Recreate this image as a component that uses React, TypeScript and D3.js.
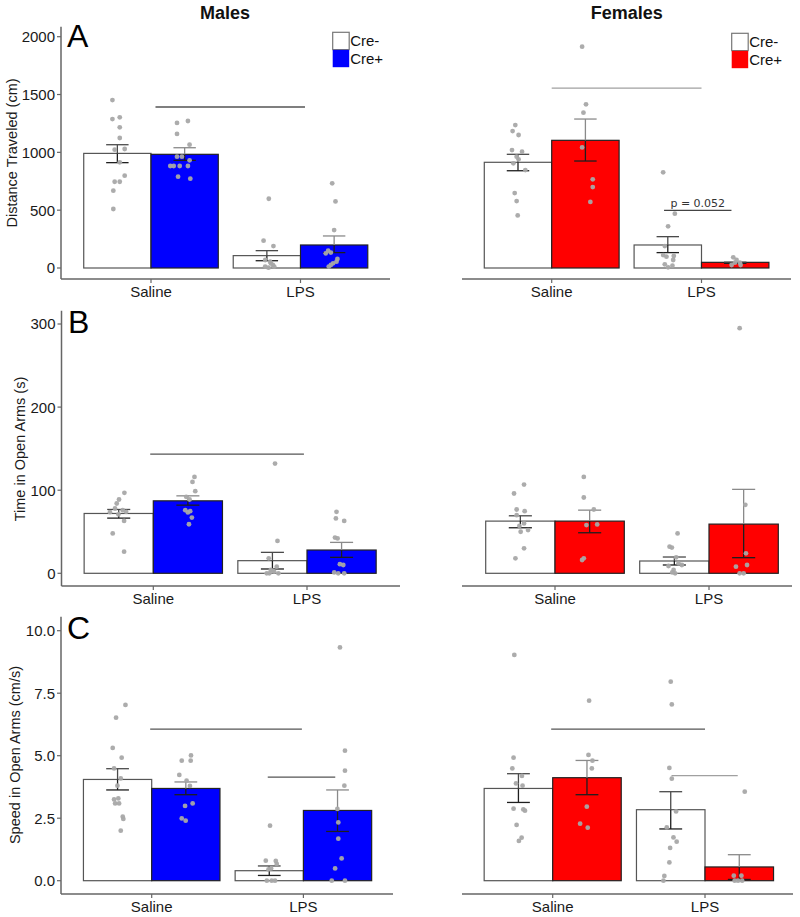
import React from "react";
import * as d3 from "d3";

// ---------- DATA ----------
const categories = ["Saline", "LPS"];
const genotypes = ["Cre-", "Cre+"];
// group order: Saline Cre-, Saline Cre+, LPS Cre-, LPS Cre+

// Distance traveled (cm)
const distMaleMean = [991, 983, 107, 199];
const distMaleErr = [[911, 1066], [931, 1040], [63, 150], [133, 277]];
const distMalePts = [
  [1452, 1288, 1303, 1216, 1124, 1029, 1023, 914, 798, 746, 746, 669, 510],
  [1254, 1271, 1159, 1066, 963, 963, 882, 882, 882, 882, 931, 790, 772],
  [599, 236, 190, 69, 55, 26, 12, 3, 12, 40],
  [732, 576, 328, 150, 133, 127, 78, 55, 26, 12, 40],
];
const distMaleJit = [
  [-0.033, -0.033, 0.016, 0.016, 0.016, 0.049, -0.018, 0.016, 0.049, -0.018, 0.016, -0.027, -0.027],
  [-0.051, 0.022, -0.051, 0.033, -0.051, -0.018, -0.096, -0.073, -0.033, 0.022, 0.033, -0.044, 0.038],
  [0.013, -0.022, 0.044, -0.011, 0.022, 0.04, -0.011, 0.011, 0.049, 0.027],
  [-0.013, 0.009, 0, -0.04, -0.022, -0.056, 0.022, 0.016, -0.022, -0.036, -0.007],
];
const distFemaleMean = [914, 1104, 199, 49];
const distFemaleErr = [[841, 983], [925, 1288], [133, 271], [40, 55]];
const distFemalePts = [
  [1236, 1184, 1150, 1020, 1006, 963, 905, 940, 847, 648, 579, 455],
  [1914, 1415, 1343, 1043, 767, 700, 571],
  [827, 470, 360, 190, 112, 104, 98, 69, 32, 20, 6],
  [92, 69, 46, 26, 26, 46],
];
const distFemaleJit = [
  [-0.018, -0.036, 0.004, -0.04, 0.027, -0.009, -0.031, 0.004, 0.049, -0.022, -0.009, -0.002],
  [-0.022, 0.004, -0.013, -0.022, 0.049, 0.049, 0.033],
  [-0.031, 0.047, 0.002, -0.02, -0.031, 0.04, -0.009, 0.036, -0.02, 0.031, 0.002],
  [-0.013, 0.009, 0.031, -0.024, 0.036, -0.002],
];

// Time in open arms (s)
const timeMaleMean = [72, 87.2, 15.2, 28];
const timeMaleErr = [[66.4, 76.8], [82, 93.2], [5.2, 25.2], [19.2, 37.2]];
const timeMalePts = [
  [96.8, 88.8, 84, 78, 76, 73.6, 74, 71, 63, 48, 26],
  [116, 110, 98.8, 92, 88.8, 76, 74.8, 73.2, 67, 59],
  [132, 39, 18, 8, 4, 2, 0, 0, 0, 3],
  [74, 66, 63, 43, 42, 11, 10, 1, 0, 0],
];
const timeMaleJit = [
  [0.037, 0.002, -0.013, -0.024, 0.026, -0.057, 0.048, -0.002, 0.035, -0.039, 0.035],
  [0.043, 0.03, 0.048, -0.011, 0.011, -0.017, 0.015, 0, 0.026, 0.007],
  [0.017, 0.033, -0.024, 0.028, -0.011, 0.011, -0.02, -0.037, 0.039, 0.002],
  [-0.033, -0.037, 0.017, -0.043, -0.026, -0.011, 0.011, -0.048, 0.017, -0.022],
];
const timeFemaleMean = [62.8, 62.8, 14.8, 59.2];
const timeFemaleErr = [[54.8, 69.2], [48.8, 76], [10, 19.6], [18.8, 101]];
const timeFemalePts = [
  [106.8, 96, 76.8, 74.8, 70, 60, 57, 52, 50, 30, 18],
  [116, 91.2, 76.8, 58, 58.8, 18, 16],
  [48, 32, 31, 19.2, 8.8, 10, 12, 4, 0, 1],
  [295, 82.4, 24, 8, 10, 0, 0],
];
const timeFemaleJit = [
  [0.024, -0.041, -0.024, 0.028, -0.024, 0.024, -0.006, 0.05, 0.002, 0.024, -0.032],
  [-0.038, -0.038, 0.027, -0.021, 0.049, -0.038, -0.049],
  [0.021, -0.031, -0.016, 0.012, -0.038, 0.049, 0.027, -0.005, 0.005, -0.014],
  [-0.026, 0.011, 0.015, -0.05, 0.022, -0.026, 0],
];

// Speed in open arms (cm/s)
const speedMaleMean = [4.05, 3.69, 0.4, 2.81];
const speedMaleErr = [[3.63, 4.48], [3.44, 3.95], [0.21, 0.59], [1.97, 3.63]];
const speedMalePts = [
  [7.03, 6.52, 5.31, 4.92, 4.49, 4.09, 3.8, 3.25, 3.29, 3.09, 3.09, 2.56, 2.47, 2.0],
  [5.01, 4.8, 4.8, 4.23, 4.0, 3.79, 3.09, 2.99, 2.49, 2.4],
  [2.2, 0.8, 0.79, 0.45, 0.49, 0.67, 0, 0, 0],
  [9.33, 5.2, 4.4, 3.8, 2.87, 2.33, 1.68, 0.89, 0.49, 0, 0],
];
const speedMaleJit = [
  [0.052, -0.01, -0.032, 0.027, -0.023, 0.021, -0.001, -0.023, 0.005, -0.016, 0.01, 0.034, 0.038, 0.021],
  [0.034, -0.027, 0.032, -0.043, 0.005, 0.027, 0.045, -0.005, -0.027, -0.001],
  [0.005, -0.023, 0.043, -0.005, 0.012, 0.049, 0.016, -0.016, 0.038],
  [0.016, 0.049, 0.049, 0.045, -0.001, 0.005, 0.005, 0.027, -0.016, -0.038, 0.049],
];
const speedFemaleMean = [3.69, 4.12, 2.84, 0.55];
const speedFemaleErr = [[3.13, 4.28], [3.44, 4.81], [2.07, 3.56], [0.05, 1.04]];
const speedFemalePts = [
  [9.03, 4.92, 4.49, 4.19, 3.89, 3.8, 2.88, 2.85, 2.8, 2.23, 1.72, 1.59],
  [7.2, 5.03, 4.8, 4.49, 2.96, 2.28, 2.12],
  [7.96, 7.05, 4.51, 4.08, 2.77, 2.13, 1.73, 1.56, 1.31, 0.73, 0.19, 0],
  [3.56, 0.2, 0.2, 0, 0, 0],
];
const speedFemaleJit = [
  [-0.027, -0.032, -0.04, 0.023, -0.016, 0.027, -0.032, 0.032, 0.043, -0.012, 0.021, 0.003],
  [0.014, 0.01, 0.036, 0.032, -0.001, -0.045, 0.005],
  [0, 0.007, -0.009, 0.007, 0.035, -0.026, 0.018, 0.039, -0.004, -0.009, -0.042, -0.048],
  [0.036, -0.036, 0.014, -0.03, 0.019, -0.008],
];

// significance bars: [x start (category units), x end, y value]
const distMaleSig = [[1.03, 2.03, 1392]];
const distFemaleSig = [[1.0, 2.0, 1556], [1.75, 2.2, 499]];
const distFemaleSigLabels = ["", "p = 0.052"];
const timeMaleSig = [[0.98, 1.98, 143.5]];
const timeFemaleSig: number[][] = [];
const speedMaleSig = [[0.99, 1.99, 6.06], [1.765, 2.21, 4.14]];
const speedFemaleSig = [[0.99, 2.0, 6.06], [1.78, 2.215, 4.2]];

const distTicks = [0, 500, 1000, 1500, 2000];
const timeTicks = [0, 100, 200, 300];
const speedTicks = [0, 2.5, 5, 7.5, 10];

const panelTitles = ["Males", "Females"];
const rowLetters = ["A", "B", "C"];
const yTitles = ["Distance Traveled (cm)", "Time in Open Arms (s)", "Speed in Open Arms (cm/s)"];

// ---------- LAYOUT ----------
const FONT = "'Liberation Sans', Arial, Helvetica, sans-serif";
const rowsLayout = [
  { domain: [0, 2000], range: [268, 36.7], axisTop: 26.7, axisY: 279, ticks: distTicks, fmt: d3.format("d"), titleX: 12, titleY: 153, letterX: 67, letterY: 47 },
  { domain: [0, 300], range: [573.3, 324], axisTop: 310.7, axisY: 586, ticks: timeTicks, fmt: d3.format("d"), titleX: 20, titleY: 449, letterX: 68, letterY: 333 },
  { domain: [0, 10], range: [880.7, 630.7], axisTop: 616.7, axisY: 894, ticks: speedTicks, fmt: d3.format(".1f"), titleX: 15, titleY: 755, letterX: 67, letterY: 639 },
];
const panelsLayout = [
  [{ x0: 61, x1: 390, sal: 151, u: 149.5 }, { x0: 462, x1: 791, sal: 551.7, u: 149.8 }],
  [{ x0: 61.5, x1: 400, sal: 153.3, u: 153.7 }, { x0: 462, x1: 792, sal: 555, u: 154 }],
  [{ x0: 61, x1: 393, sal: 151.7, u: 151.7 }, { x0: 462, x1: 793, sal: 552.7, u: 152.3 }],
];
const sigColors = [
  [["#555"], ["#a0a0a0", "#444"]],
  [["#555"], []],
  [["#555", "#555"], ["#555", "#a0a0a0"]],
];

const panelData = [
  [
    { mean: distMaleMean, err: distMaleErr, pts: distMalePts, jit: distMaleJit, sig: distMaleSig, sigLab: [] as string[] },
    { mean: distFemaleMean, err: distFemaleErr, pts: distFemalePts, jit: distFemaleJit, sig: distFemaleSig, sigLab: distFemaleSigLabels },
  ],
  [
    { mean: timeMaleMean, err: timeMaleErr, pts: timeMalePts, jit: timeMaleJit, sig: timeMaleSig, sigLab: [] as string[] },
    { mean: timeFemaleMean, err: timeFemaleErr, pts: timeFemalePts, jit: timeFemaleJit, sig: timeFemaleSig, sigLab: [] as string[] },
  ],
  [
    { mean: speedMaleMean, err: speedMaleErr, pts: speedMalePts, jit: speedMaleJit, sig: speedMaleSig, sigLab: [] as string[] },
    { mean: speedFemaleMean, err: speedFemaleErr, pts: speedFemalePts, jit: speedFemaleJit, sig: speedFemaleSig, sigLab: [] as string[] },
  ],
];
const sexColors = ["#0000ff", "#ff0000"];

function Panel({ row, col }: { row: number; col: number }) {
  const rl = rowsLayout[row];
  const pl = panelsLayout[row][col];
  const d = panelData[row][col];
  const y = d3.scaleLinear().domain(rl.domain).range(rl.range);
  const x = d3.scaleLinear().domain([1, 2]).range([pl.sal, pl.sal + pl.u]);
  const dodge = 0.225;
  const half = 0.225;
  const fill = sexColors[col];
  const groups = categories.flatMap((c, ci) => genotypes.map((g, gi) => ({ ci, gi, idx: ci * 2 + gi })));
  return (
    <g>
      {/* bars */}
      {groups.map(({ ci, gi, idx }) => {
        const cx = ci + 1 + (gi === 0 ? -dodge : dodge);
        const xl = x(cx - half), xr = x(cx + half);
        return (
          <rect key={"b" + idx} x={xl} y={y(d.mean[idx])} width={xr - xl} height={y(0) - y(d.mean[idx])}
            fill={gi === 0 ? "#fff" : fill} stroke={gi === 0 ? "#555" : "#222"} strokeWidth={1.2} />
        );
      })}
      {/* error bars */}
      {groups.map(({ ci, gi, idx }) => {
        const cx = ci + 1 + (gi === 0 ? -dodge : dodge);
        const xc = x(cx);
        const cw = x(cx + 0.075) - xc;
        const [lo, hi] = d.err[idx];
        const top = d.mean[idx];
        const upColor = gi === 0 ? "#4a4a4a" : "#8a8a8a";
        const inColor = "#1e1e1e";
        const mid = Math.min(Math.max(top, lo), hi);
        return (
          <g key={"e" + idx} strokeWidth={1.3}>
            <line x1={xc} x2={xc} y1={y(lo)} y2={y(mid)} stroke={inColor} />
            <line x1={xc} x2={xc} y1={y(mid)} y2={y(hi)} stroke={upColor} />
            <line x1={xc - cw} x2={xc + cw} y1={y(lo)} y2={y(lo)} stroke={lo <= top ? inColor : upColor} />
            <line x1={xc - cw} x2={xc + cw} y1={y(hi)} y2={y(hi)} stroke={hi <= top ? inColor : upColor} />
          </g>
        );
      })}
      {/* points */}
      {groups.map(({ ci, gi, idx }) => {
        const cx = ci + 1 + (gi === 0 ? -dodge : dodge);
        return d.pts[idx].map((v, k) => (
          <circle key={"p" + idx + "_" + k} cx={x(cx + d.jit[idx][k])} cy={y(v)} r={2.4} fill="#a8a8a8" opacity={0.95} />
        ));
      })}
      {/* significance bars */}
      {d.sig.map((s, k) => (
        <g key={"s" + k}>
          <line x1={x(s[0])} x2={x(s[1])} y1={y(s[2])} y2={y(s[2])} stroke={sigColors[row][col][k]} strokeWidth={1.3} />
          {d.sigLab[k] ? (
            <text x={(x(s[0]) + x(s[1])) / 2} y={y(s[2]) - 3.5} textAnchor="middle" fontSize={11}
              fontFamily="'DejaVu Sans', sans-serif" fill="#333">{d.sigLab[k]}</text>
          ) : null}
        </g>
      ))}
      {/* x axis */}
      <line x1={pl.x0} x2={pl.x1} y1={rl.axisY} y2={rl.axisY} stroke="#666" strokeWidth={1.5} />
      {categories.map((c, ci) => (
        <g key={"xt" + ci}>
          <line x1={x(ci + 1)} x2={x(ci + 1)} y1={rl.axisY} y2={rl.axisY + 4} stroke="#666" strokeWidth={1.2} />
          <text x={x(ci + 1)} y={rl.axisY + 18} textAnchor="middle" fontSize={15} fontFamily={FONT} fill="#1a1a1a">{c}</text>
        </g>
      ))}
      {/* y axis (left panels only) */}
      {col === 0 ? (
        <g>
          <line x1={pl.x0} x2={pl.x0} y1={rl.axisTop} y2={rl.axisY} stroke="#666" strokeWidth={1.5} />
          {rl.ticks.map((t, k) => (
            <g key={"yt" + k}>
              <line x1={pl.x0 - 4} x2={pl.x0} y1={y(t)} y2={y(t)} stroke="#666" strokeWidth={1.2} />
              <text x={pl.x0 - 6} y={y(t)} dy="0.36em" textAnchor="end" fontSize={15} fontFamily={FONT} fill="#1a1a1a">{rl.fmt(t)}</text>
            </g>
          ))}
          <text transform={`translate(${rl.titleX},${rl.titleY}) rotate(-90)`} dy="0.35em" textAnchor="middle" fontSize={14.5} fontFamily={FONT} fill="#1a1a1a">{yTitles[row]}</text>
          <text x={rl.letterX} y={rl.letterY} fontSize={32} fontFamily={FONT} fill="#000">{rowLetters[row]}</text>
        </g>
      ) : null}
    </g>
  );
}

function Legend({ x0, y0, color }: { x0: number; y0: number; color: string }) {
  const w = 16.5, h = 17.3;
  return (
    <g>
      <rect x={x0} y={y0} width={w} height={h} fill="#fff" stroke="#777" strokeWidth={1.2} />
      <rect x={x0} y={y0 + h + 0.3} width={w} height={h} fill={color} />
      <text x={x0 + w + 1} y={y0 + h / 2} dy="0.36em" fontSize={15} fontFamily={FONT} fill="#111">{genotypes[0]}</text>
      <text x={x0 + w + 1} y={y0 + h * 1.5 + 0.3} dy="0.36em" fontSize={15} fontFamily={FONT} fill="#111">{genotypes[1]}</text>
    </g>
  );
}

export default function App() {
  return (
    <svg width={800} height={917} style={{ position: "absolute", left: 0, top: 0, background: "#fff" }}>
      <rect width={800} height={917} fill="#fff" />
      <text x={225} y={19} textAnchor="middle" fontSize={18} fontWeight="bold" fontFamily={FONT} fill="#111">{panelTitles[0]}</text>
      <text x={626.7} y={19} textAnchor="middle" fontSize={18} fontWeight="bold" fontFamily={FONT} fill="#111">{panelTitles[1]}</text>
      {[0, 1, 2].map((r) => [0, 1].map((c) => <Panel key={r + "-" + c} row={r} col={c} />))}
      <Legend x0={332.7} y0={32.3} color={sexColors[0]} />
      <Legend x0={731.7} y0={33.3} color={sexColors[1]} />
    </svg>
  );
}
